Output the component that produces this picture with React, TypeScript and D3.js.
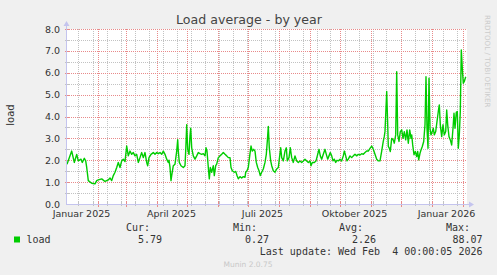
import React from "react";
import * as d3 from "d3";

// ---- data (days since start of graph window, load value) ----
const startDate = new Date(2025, 0, 1, 12, 0, 0);
const endDate = new Date(2026, 1, 5, 12, 0, 0);

const dayOffsets: number[] = [
  0, 4.7, 7.3, 9.7, 11.3, 14, 15.3, 17.3, 18.7, 19.7, 21.3, 24.7, 28, 29.7, 31.3, 34.7, 38, 41.3, 43, 44.7,
  46.3, 48, 49.7, 51.3, 53, 54.7, 56.3, 58, 59.7, 61.3, 63, 64.7, 66.3, 68, 69.7, 71.3, 73, 74.7, 76.3,
  78, 79.7, 80.7, 82, 84, 86.3, 88, 89.7, 91.3, 93, 94.7, 96.3, 98, 99.7, 101.3, 102, 103, 104, 104.7, 106.3,
  108, 109.7, 110.7, 111.3, 112.3, 114, 116.3, 118, 118.7, 119.7, 120.7, 122, 123, 123.7, 124.7, 126.3, 128,
  129.7, 131.3, 133, 134.7, 136.3, 138, 139, 140, 141.3, 142.3, 143.3, 144.7, 146.3, 147.3, 148.7, 149.7,
  151.3, 153, 154.7, 156.3,
  158, 159.7, 161.3, 163, 164, 165.3, 167.3, 168.7, 170, 171.3, 173, 174.7, 176.3, 178, 178.7, 180, 181.3,
  182.7, 184, 185.3, 186.7, 188, 189.3, 190.7, 192, 193.3, 194.7, 196.3, 198, 199.3, 200.3, 201.3, 202.3,
  203.7, 204.7, 206.3, 208, 209.7, 211.3, 212.3, 213.7, 214.7, 216.3, 218, 219.3, 220.3, 222, 223.3, 224.7,
  226.3, 228, 229.7, 231.3, 233, 234.7, 236.3,
  238, 239.7, 241.3, 243, 244, 245.3, 247.3, 249, 250.7, 252, 253.3, 254.7, 256.3, 258, 259.3, 260.7, 262,
  263.3, 264.7, 266, 267.3, 268.7, 270, 271.3, 273, 274.7, 276.3, 277.3, 278.7, 280, 281.3, 283, 284.7,
  286.3, 288, 289.7, 291.3, 293, 294.7, 296.3, 298, 299.7, 301.3, 303, 304.7, 306.3, 308, 309.7, 311.3, 313,
  314.7, 316.3, 317.3,
  318, 319.7, 320.7, 321.3, 322.3, 323.3, 324.7, 326.3, 327.3, 328.7, 329.7, 330.7, 332, 333.3, 334.7, 336,
  337.3, 338.7, 340, 341.3, 342.7, 344, 344.7, 345.7, 347, 348.3, 349.7, 350.7, 351.7, 353, 354, 355.3,
  356.7, 358, 359, 360, 361, 362, 363, 364, 365.3, 366.3, 367.3, 368.7, 370, 371.3, 372.3, 373.3, 374.7,
  376, 377.3, 378.7, 379.7, 380.7, 382, 383.3, 384.7, 386, 387, 388, 389.3, 390.3, 391.3, 392.3, 393.3,
  394.3, 395.3, 396.3, 397.3, 398.7,
];

const loadValues: number[] = [
  1.82, 2.42, 1.9, 2.27, 1.97, 2.05, 1.9, 2.09, 1.97, 1.67, 1.07, 0.95, 0.92, 1.07, 1.1, 1.15, 1.03, 1.1, 1.19, 1.07,
  1.3, 1.45, 1.67, 1.9, 1.67, 1.97, 2.05, 1.94, 2.65, 2.2, 2.42, 2.27, 2.35, 2.2, 2.27, 1.9, 2.12, 2.35, 2.12,
  2.35, 1.9, 1.75, 2.12, 2.27, 2.35, 2.27, 2.35, 2.3, 2.35, 2.27, 2.42, 2.27, 2.05, 1.9, 2.0, 1.67, 1.07, 1.3, 1.75,
  1.82, 2.42, 2.94, 2.42, 1.9, 1.75, 1.67, 1.75, 2.42, 3.62, 2.5, 2.27, 3.12, 3.47, 2.57, 2.2, 2.05,
  2.2, 2.35, 2.3, 2.27, 2.3, 2.2, 2.57, 2.42, 1.67, 1.15, 1.67, 1.45, 1.75, 1.3, 1.75, 1.82,
  2.12, 2.2, 2.27, 2.35,
  2.27, 2.2, 2.12, 2.12, 1.67, 1.52, 1.45, 1.49, 1.3, 1.15, 1.25, 1.19, 1.25, 1.22, 1.45, 1.52, 1.67,
  2.2, 2.65, 2.42, 2.5, 2.42, 1.9, 1.67, 1.52, 1.3, 1.45, 1.6, 1.9, 2.27, 2.87, 3.55, 2.57,
  1.97, 1.75, 1.52, 1.45, 1.6, 1.67, 2.05, 2.57, 2.12, 1.97, 2.42, 2.57, 1.97, 2.12, 2.57, 2.12,
  1.9, 2.2, 1.97, 1.9, 1.97, 1.9, 1.97,
  2.05, 1.97, 1.9, 1.97, 1.75, 1.9, 1.9, 1.97, 2.27, 2.5, 2.2, 2.05, 2.27, 2.5, 2.27, 2.05, 2.2,
  2.35, 2.2, 1.97, 2.05, 1.9, 2.0, 1.97, 2.05, 1.97, 2.2, 2.42, 2.2, 1.97, 2.05, 2.2, 2.12,
  2.2, 2.27, 2.2, 2.27, 2.24, 2.3, 2.27, 2.35, 2.42, 2.42, 2.54, 2.65, 2.5, 2.27, 2.05, 1.97, 1.97,
  2.42, 2.87, 3.09,
  3.32, 5.14, 3.62, 2.63, 2.55, 2.4, 3.0, 2.93, 2.78, 3.16, 6.05, 3.16, 2.86, 3.31, 3.39, 3.0,
  3.31, 2.93, 3.39, 2.78, 3.39, 3.0, 3.16, 2.7, 2.25, 2.4, 2.17, 2.4, 2.02, 2.32, 2.47, 2.63,
  2.86, 3.62, 5.82, 3.46, 2.55, 5.75, 3.46, 3.16, 3.31, 3.46, 3.16, 3.31, 3.77, 4.23, 4.53, 3.62, 3.08,
  3.62, 3.16, 3.31, 4.3, 3.62, 3.08, 2.93, 2.7, 3.46, 4.15, 3.46, 4.19, 4.23, 2.55, 3.16, 4.23,
  7.04, 6.2, 5.52, 5.6, 5.82,
];

const yTicks: number[] = [0, 1, 2, 3, 4, 5, 6, 7, 8];
const yTickLabels: string[] = ["0.0", "1.0", "2.0", "3.0", "4.0", "5.0", "6.0", "7.0", "8.0"];
const xLabelDates: Date[] = [
  new Date(2025, 0, 16), new Date(2025, 3, 16), new Date(2025, 6, 16), new Date(2025, 9, 16), new Date(2026, 0, 16),
];
const xLabels: string[] = ["Januar 2025", "April 2025", "Juli 2025", "Oktober 2025", "Januar 2026"];

const legendHeaders: string[] = ["Cur:", "Min:", "Avg:", "Max:"];
const legendValues: string[] = ["5.79", "0.27", "2.26", "88.07"];
const seriesName = "load";
const lastUpdate = "Last update: Wed Feb  4 00:00:05 2026";

const W = 497, H = 275;
const L = 67, R = 467, T = 29, B = 204;

const sans = "'DejaVu Sans', Verdana, sans-serif";
const mono = "'DejaVu Sans Mono', monospace";
const minorColor = "#c2c2c2";
const majorColor = "#e88a8a";
const axisColor = "#c4c4ee";
const textColor = "#333";

export default function App() {
  const x = d3.scaleTime().domain([startDate, endDate]).range([L, R]);
  const y = d3.scaleLinear().domain([0, 8]).range([B, T]);

  const pts: [Date, number][] = dayOffsets.map((d, i) => [d3.timeMinute.offset(startDate, Math.round(d * 1440)), loadValues[i]]);
  const line = d3.line<[Date, number]>().x((d) => x(d[0])).y((d) => y(d[1]));

  const monthTicks = d3.timeMonth.range(d3.timeMonth.ceil(startDate), endDate);
  const mondays = d3.timeMonday.range(startDate, endDate);
  const minorX = mondays.filter((_, i) => i % 2 === 1);
  const minorY = d3.range(0.5, 8, 1);

  const legendHeaderX = [150, 257, 363, 470];
  const legendValueX = [162, 269, 376, 482.5];

  return (
    <svg width={W} height={H} style={{ position: "absolute", left: 0, top: 0 }} xmlns="http://www.w3.org/2000/svg">
      <rect x={0} y={0} width={W} height={H} fill="#F0F0F0" />
      <rect x={L} y={T} width={R - L} height={B - T} fill="#FFFFFF" />

      {/* minor grid */}
      <g stroke={minorColor} strokeWidth={1} strokeDasharray="1,1" shapeRendering="crispEdges">
        {minorX.map((d, i) => (
          <line key={"mx" + i} x1={Math.round(x(d)) + 0.5} x2={Math.round(x(d)) + 0.5} y1={T} y2={B} />
        ))}
        {minorY.map((v, i) => (
          <line key={"my" + i} x1={L} x2={R} y1={Math.round(y(v)) + 0.5} y2={Math.round(y(v)) + 0.5} />
        ))}
      </g>
      {/* major grid */}
      <g stroke={majorColor} strokeWidth={1} strokeDasharray="1,1" shapeRendering="crispEdges">
        {monthTicks.map((d, i) => (
          <line key={"Mx" + i} x1={Math.round(x(d)) + 0.5} x2={Math.round(x(d)) + 0.5} y1={T} y2={B} />
        ))}
        {yTicks.slice(1).map((v, i) => (
          <line key={"My" + i} x1={L} x2={R} y1={Math.round(y(v)) + 0.5} y2={Math.round(y(v)) + 0.5} />
        ))}
      </g>

      {/* axis ticks */}
      <g shapeRendering="crispEdges">
        {minorX.map((d, i) => (
          <line key={"tmx" + i} x1={Math.round(x(d)) + 0.5} x2={Math.round(x(d)) + 0.5} y1={B - 2} y2={B + 2} stroke={minorColor} />
        ))}
        {monthTicks.map((d, i) => (
          <line key={"tMx" + i} x1={Math.round(x(d)) + 0.5} x2={Math.round(x(d)) + 0.5} y1={B - 2} y2={B + 3} stroke={majorColor} />
        ))}
        {minorY.map((v, i) => (
          <line key={"tmy" + i} x1={L - 2} x2={L + 2} y1={Math.round(y(v)) + 0.5} y2={Math.round(y(v)) + 0.5} stroke={minorColor} />
        ))}
        {yTicks.slice(1).map((v, i) => (
          <line key={"tMy" + i} x1={L - 2} x2={L + 2} y1={Math.round(y(v)) + 0.5} y2={Math.round(y(v)) + 0.5} stroke={majorColor} />
        ))}
      </g>

      {/* data line */}
      <path d={line(pts) || ""} fill="none" stroke="#00CC00" strokeWidth={1.4} strokeLinejoin="round" />

      {/* axes */}
      <g stroke={axisColor} strokeWidth={1} shapeRendering="crispEdges">
        <line x1={L - 0.5} x2={R + 3} y1={B + 0.5} y2={B + 0.5} />
        <line x1={L - 0.5} x2={L - 0.5} y1={B + 0.5} y2={T - 5} />
      </g>
      <path d={`M${R + 7},${B + 0.5} L${R + 2},${B - 2.5} L${R + 2},${B + 3.5} Z`} fill={axisColor} />
      <path d={`M${L - 0.5},${T - 8} L${L - 3.5},${T - 3} L${L + 2.5},${T - 3} Z`} fill={axisColor} />

      {/* y tick labels */}
      <g fontFamily={sans} fontSize={9.5} fill={textColor} textAnchor="end">
        {yTicks.map((v, i) => (
          <text key={"yl" + i} x={60} y={y(v) + 3.5}>{yTickLabels[i]}</text>
        ))}
      </g>
      {/* x labels */}
      <g fontFamily={sans} fontSize={9.5} fill={textColor} textAnchor="middle">
        {xLabelDates.map((d, i) => (
          <text key={"xl" + i} x={x(d)} y={216.5}>{xLabels[i]}</text>
        ))}
      </g>

      {/* title */}
      <text x={249} y={24} fontFamily={sans} fontSize={12.6} fill="#444" textAnchor="middle">Load average - by year</text>
      {/* y-axis label */}
      <text transform="translate(14,115) rotate(-90)" fontFamily={sans} fontSize={10} fill={textColor} textAnchor="middle">load</text>
      {/* right watermark */}
      <text transform="translate(485,15) rotate(90)" fontFamily={sans} fontSize={7.2} fill="#cccccc" textAnchor="start">RRDTOOL / TOBI OETIKER</text>

      {/* legend */}
      <g fontFamily={mono} fontSize={10} fill={textColor}>
        {legendHeaders.map((h, i) => (
          <text key={"lh" + i} x={legendHeaderX[i]} y={231} textAnchor="end">{h}</text>
        ))}
        <rect x={14} y={236.5} width={6} height={6} fill="#00CC00" />
        <text x={26.5} y={243}>{seriesName}</text>
        {legendValues.map((v, i) => (
          <text key={"lv" + i} x={legendValueX[i]} y={243} textAnchor="end">{v}</text>
        ))}
        <text x={482.5} y={255} textAnchor="end" style={{ whiteSpace: "pre" }}>{lastUpdate}</text>
      </g>
      <text x={248} y={267} fontFamily={sans} fontSize={7.5} fill="#c8c8c8" textAnchor="middle">Munin 2.0.75</text>
    </svg>
  );
}
